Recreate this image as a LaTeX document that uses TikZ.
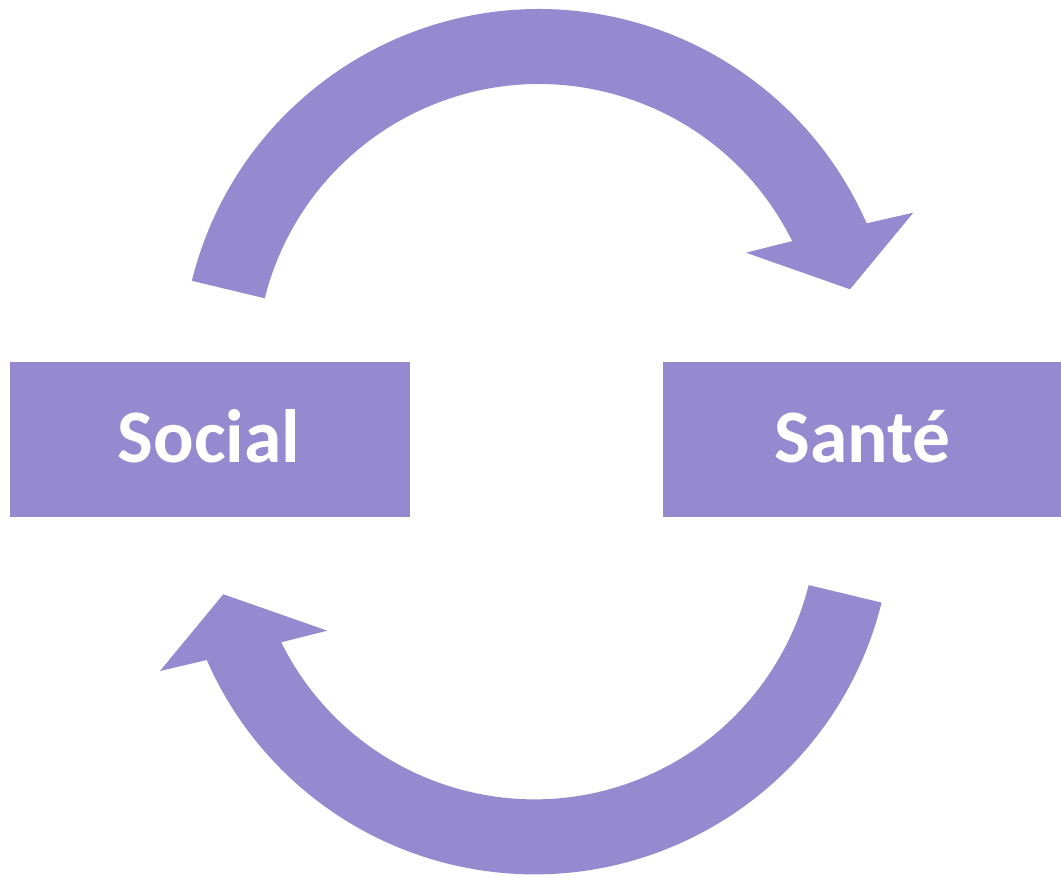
\documentclass[tikz,border=0pt]{standalone}
\usepackage{fontspec}
\setmainfont{Carlito}
\usetikzlibrary{calc}
\definecolor{lav}{RGB}{149,138,208}
\tikzset{
  box/.style={fill=lav, draw=none, inner sep=0pt, minimum height=3.094cm,
    text=white, font=\bfseries\fontsize{43}{50}\selectfont},
  arrowshape/.style={fill=lav, draw=none}
}
\begin{document}
\begin{tikzpicture}[x=0.02cm, y=0.02cm]
\useasboundingbox (0,0) rectangle (1061,878);
% boxes
\node[box, minimum width=8cm] (social) at (210,438.65) {};
\node[box, minimum width=7.96cm] (sante) at (862,438.65) {};
\node[text=white, font=\bfseries\fontsize{43}{50}\selectfont, inner sep=0pt] (socialtxt) at (209,441.5) {Social};
\node[text=white, font=\bfseries\fontsize{43}{50}\selectfont, inner sep=0pt] (santetxt) at (862.5,441.5) {Santé};
% arc centres
\coordinate (ctop) at (539,511.3);
\coordinate (cbot) at (534.4,361.3);
% top arrow (Social -> Santé)
\fill[arrowshape] ($(ctop)+(166.1:7.154cm)$) arc[start angle=166.1, end angle=23.63, radius=7.154cm]
  -- (913.3,665.3) -- (850,588.7) -- (746,625.3)
  -- ($(ctop)+(26.38:5.654cm)$) arc[start angle=26.38, end angle=166.0, radius=5.654cm] -- cycle;
% bottom arrow (Santé -> Social)
\fill[arrowshape] ($(cbot)+(346.1:7.154cm)$) arc[start angle=346.1, end angle=203.63, radius=7.154cm]
  -- (160,207) -- (223.3,283.7) -- (327.3,247.3)
  -- ($(cbot)+(206.38:5.654cm)$) arc[start angle=206.38, end angle=346.0, radius=5.654cm] -- cycle;
\end{tikzpicture}
\end{document}
